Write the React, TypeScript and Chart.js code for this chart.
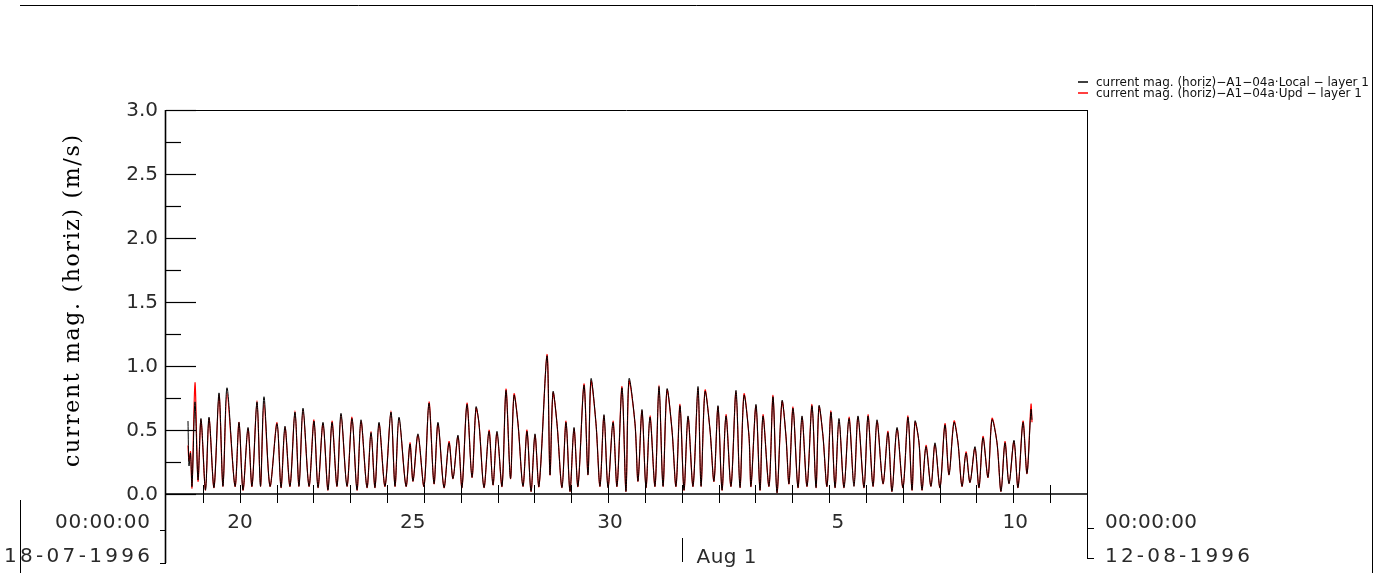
import React, { useEffect, useRef } from "react";
import { Chart, registerables } from "chart.js";

Chart.register(...registerables);

// time in days after 18-07-1996 00:00:00
const timeDays = [
  0.597, 0.624, 0.665, 0.706, 0.787, 0.869, 0.95, 1.072, 1.167, 1.303,
  1.439, 1.547, 1.656, 1.873, 1.982, 2.09, 2.226, 2.334, 2.47, 2.565,
  2.66, 2.823, 3.013, 3.122, 3.23, 3.366, 3.501, 3.61, 3.719, 3.882,
  4.017, 4.126, 4.262, 4.397, 4.506, 4.642, 4.75, 4.913, 5.049, 5.185,
  5.293, 5.456, 5.565, 5.673, 5.782, 5.945, 6.107, 6.216, 6.325, 6.515,
  6.623, 6.705, 6.84, 7.003, 7.139, 7.275, 7.383, 7.546, 7.682, 7.79,
  7.926, 8.034, 8.17, 8.306, 8.415, 8.496, 8.632, 8.768, 8.876, 8.985,
  9.121, 9.229, 9.351, 9.446, 9.555, 9.69, 9.799, 9.908, 10.016, 10.125,
  10.342, 10.423, 10.505, 10.613, 10.749, 10.858, 10.966, 11.075, 11.183, 11.346,
  11.455, 11.536, 11.672, 11.781, 11.889, 11.998, 12.134, 12.242, 12.378, 12.486,
  12.568, 12.731, 12.812, 12.921, 13.029, 13.138, 13.274, 13.382, 13.491, 13.599,
  13.735, 13.844, 13.952, 14.061, 14.17, 14.306, 14.441, 14.523, 14.631, 14.767,
  14.875, 14.984, 15.093, 15.201, 15.337, 15.472, 15.581, 15.689, 15.825, 15.879,
  16.015, 16.124, 16.205, 16.368, 16.477, 16.585, 16.721, 16.829, 16.911, 17.02,
  17.155, 17.264, 17.4, 17.535, 17.644, 17.725, 17.834, 17.942, 18.051, 18.16,
  18.268, 18.404, 18.54, 18.675, 18.784, 18.947, 19.055, 19.191, 19.3, 19.463,
  19.598, 19.707, 19.843, 20.005, 20.141, 20.25, 20.331, 20.44, 20.521, 20.63,
  20.765, 20.874, 21.01, 21.145, 21.254, 21.39, 21.498, 21.607, 21.716, 21.824,
  21.96, 22.068, 22.177, 22.313, 22.421, 22.557, 22.666, 22.774, 22.883, 23.018,
  23.127, 23.263, 23.371, 23.48, 23.507,
];

// current mag. (horiz) A1-04a Local, m/s
const localMag = [
  0.57, 0.22, 0.32, 0.06, 0.72, 0.11, 0.59, 0.03, 0.6, 0.05,
  0.79, 0.06, 0.83, 0.06, 0.56, 0.03, 0.52, 0.06, 0.72, 0.06,
  0.76, 0.06, 0.55, 0.05, 0.53, 0.06, 0.64, 0.06, 0.67, 0.06,
  0.57, 0.05, 0.56, 0.03, 0.56, 0.06, 0.63, 0.06, 0.59, 0.03,
  0.58, 0.05, 0.48, 0.05, 0.56, 0.06, 0.64, 0.06, 0.6, 0.06,
  0.39, 0.1, 0.47, 0.06, 0.71, 0.08, 0.56, 0.05, 0.4, 0.12,
  0.46, 0.05, 0.7, 0.13, 0.68, 0.55, 0.05, 0.49, 0.07, 0.49,
  0.06, 0.81, 0.12, 0.77, 0.55, 0.06, 0.49, 0.02, 0.47, 0.06,
  1.08, 0.15, 0.8, 0.55, 0.05, 0.56, 0.02, 0.52, 0.06, 0.85,
  0.15, 0.9, 0.55, 0.06, 0.62, 0.05, 0.56, 0.06, 0.83, 0.02,
  0.9, 0.55, 0.1, 0.66, 0.05, 0.6, 0.06, 0.84, 0.06, 0.82,
  0.5, 0.06, 0.69, 0.03, 0.61, 0.06, 0.84, 0.06, 0.8, 0.5,
  0.1, 0.69, 0.03, 0.61, 0.06, 0.81, 0.05, 0.77, 0.45, 0.06,
  0.7, 0.03, 0.61, 0.06, 0.76, 0.01, 0.73, 0.45, 0.08, 0.67,
  0.05, 0.61, 0.06, 0.69, 0.05, 0.69, 0.45, 0.06, 0.64, 0.05,
  0.59, 0.05, 0.59, 0.06, 0.61, 0.05, 0.61, 0.06, 0.58, 0.08,
  0.48, 0.02, 0.52, 0.05, 0.6, 0.03, 0.57, 0.4, 0.03, 0.37,
  0.06, 0.4, 0.05, 0.54, 0.15, 0.56, 0.4, 0.06, 0.32, 0.09,
  0.37, 0.05, 0.44, 0.13, 0.58, 0.4, 0.02, 0.4, 0.08, 0.42,
  0.05, 0.56, 0.16, 0.66, 0.58,
];

// current mag. (horiz) A1-04a Upd, m/s
const updMag = [
  0.38, 0.26, 0.33, 0.05, 0.87, 0.1, 0.58, 0.03, 0.59, 0.05,
  0.77, 0.06, 0.79, 0.06, 0.56, 0.03, 0.51, 0.06, 0.73, 0.06,
  0.72, 0.06, 0.56, 0.05, 0.52, 0.06, 0.65, 0.06, 0.66, 0.06,
  0.58, 0.05, 0.55, 0.03, 0.57, 0.06, 0.62, 0.06, 0.6, 0.03,
  0.57, 0.05, 0.49, 0.05, 0.55, 0.06, 0.65, 0.06, 0.59, 0.06,
  0.4, 0.1, 0.46, 0.06, 0.72, 0.08, 0.55, 0.05, 0.41, 0.12,
  0.45, 0.05, 0.71, 0.13, 0.67, 0.55, 0.05, 0.5, 0.07, 0.48,
  0.06, 0.82, 0.12, 0.78, 0.55, 0.06, 0.5, 0.02, 0.46, 0.06,
  1.09, 0.15, 0.79, 0.55, 0.05, 0.57, 0.02, 0.51, 0.06, 0.86,
  0.15, 0.88, 0.55, 0.06, 0.61, 0.05, 0.57, 0.06, 0.84, 0.02,
  0.88, 0.55, 0.1, 0.65, 0.05, 0.61, 0.06, 0.85, 0.06, 0.81,
  0.5, 0.06, 0.7, 0.03, 0.6, 0.06, 0.83, 0.06, 0.81, 0.5,
  0.1, 0.68, 0.03, 0.62, 0.06, 0.8, 0.05, 0.78, 0.45, 0.06,
  0.69, 0.03, 0.62, 0.06, 0.77, 0.01, 0.72, 0.45, 0.08, 0.68,
  0.05, 0.6, 0.06, 0.7, 0.05, 0.68, 0.45, 0.06, 0.65, 0.05,
  0.58, 0.05, 0.6, 0.06, 0.6, 0.05, 0.62, 0.06, 0.57, 0.08,
  0.49, 0.02, 0.51, 0.05, 0.61, 0.03, 0.56, 0.4, 0.03, 0.38,
  0.06, 0.39, 0.05, 0.55, 0.15, 0.57, 0.4, 0.06, 0.33, 0.09,
  0.36, 0.05, 0.45, 0.13, 0.59, 0.4, 0.02, 0.41, 0.08, 0.41,
  0.05, 0.57, 0.16, 0.7, 0.56,
];

const seriesNames = [
  "current mag. (horiz)\u2212A1\u221204a\u00b7Local \u2212 layer 1",
  "current mag. (horiz)\u2212A1\u221204a\u00b7Upd \u2212 layer 1",
];
const seriesColors = ["#000000", "#ff0000"];
const yTitle = "current mag. (horiz) (m/s)";

const yMajorValues = [0, 0.5, 1, 1.5, 2, 2.5, 3];
const yMajorLabels = ["0.0", "0.5", "1.0", "1.5", "2.0", "2.5", "3.0"];
const yMinorValues = [0.25, 0.75, 1.25, 1.75, 2.25, 2.75];

const xMin = 0;
const xMax = 25;
const dayMarks = [1, 2, 3, 4, 5, 6, 7, 8, 9, 10, 11, 12, 13, 14, 15, 16, 17, 18, 19, 20, 21, 22, 23, 24];
const xLabelDays = [2.01, 6.7, 12.05, 18.24, 23.05];
const xLabels = ["20", "25", "30", "5", "10"];
const monthMarkDay = 14;
const monthMarkLabel = "Aug 1";
const startTimeLabel = "00:00:00";
const startDateLabel = "18-07-1996";
const endTimeLabel = "00:00:00";
const endDateLabel = "12-08-1996";

const TICK_FONT = "20px 'DejaVu Sans'";
const TICK_COLOR = "#2a2a2a";

function drawFitted(
  ctx: CanvasRenderingContext2D,
  text: string,
  x: number,
  y: number,
  align: "left" | "right" | "center",
  width?: number
) {
  ctx.letterSpacing = "0px";
  const chars = Array.from(text).length;
  const w0 = ctx.measureText(text).width;
  let ls = 0;
  if (width && chars > 1) ls = (width - w0) / (chars - 1);
  const total = w0 + ls * (chars - 1);
  let sx = x;
  if (align === "right") sx = x - total;
  if (align === "center") sx = x - total / 2;
  ctx.letterSpacing = ls + "px";
  ctx.textAlign = "left";
  ctx.fillText(text, sx, y);
  ctx.letterSpacing = "0px";
}

const decorPlugin = {
  id: "decor",
  afterDraw(chart: any) {
    const ctx: CanvasRenderingContext2D = chart.ctx;
    const xs = chart.scales.x;
    const ys = chart.scales.y;
    const { left, right, top, bottom } = chart.chartArea;
    const line = (x1: number, y1: number, x2: number, y2: number) => {
      ctx.beginPath();
      ctx.moveTo(x1, y1);
      ctx.lineTo(x2, y2);
      ctx.stroke();
    };
    ctx.save();
    ctx.strokeStyle = "#000";
    ctx.fillStyle = "#000";

    // outer frame
    ctx.lineWidth = 1;
    line(20, 5.5, 1373.5, 5.5);
    line(20.5, 500, 20.5, 573);

    // plot frame
    ctx.lineWidth = 1;
    line(left, top + 0.5, right, top + 0.5);
    line(right + 0.5, top, right + 0.5, 558);
    ctx.lineWidth = 1.6;
    line(left - 0.5, top, left - 0.5, 563);
    line(left, bottom, right, bottom);

    // y ticks
    ctx.lineWidth = 1.2;
    yMajorValues.forEach((v) => {
      const y = Math.round(ys.getPixelForValue(v)) + 0.5;
      line(left, y, left + 30, y);
    });
    yMinorValues.forEach((v) => {
      const y = Math.round(ys.getPixelForValue(v)) + 0.5;
      line(left, y, left + 15, y);
    });

    // x day ticks
    ctx.lineWidth = 1;
    dayMarks.forEach((d) => {
      const x = Math.round(xs.getPixelForValue(d)) + 0.5;
      line(x, bottom - 9, x, bottom + 9);
    });

    // left and right small marks
    line(left - 6, 530.5, left, 530.5);
    line(left - 6, 563.5, left, 563.5);
    line(right, 528.5, right + 7, 528.5);
    line(right, 558.5, right + 7, 558.5);

    // month mark
    const mx = Math.round(xs.getPixelForValue(monthMarkDay)) + 0.5;
    line(mx, 538, mx, 562);

    // tick labels
    ctx.font = TICK_FONT;
    ctx.fillStyle = TICK_COLOR;
    ctx.textBaseline = "middle";
    yMajorValues.forEach((v, i) => {
      const y = ys.getPixelForValue(v);
      drawFitted(ctx, yMajorLabels[i], 158, y + 1, "right");
    });
    xLabelDays.forEach((d, i) => {
      const x = xs.getPixelForValue(d);
      drawFitted(ctx, xLabels[i], x, 523, "center");
    });
    drawFitted(ctx, monthMarkLabel, mx + 14, 558, "left", 60);
    drawFitted(ctx, startTimeLabel, 150, 523, "right", 95);
    drawFitted(ctx, startDateLabel, 150, 557, "right", 146);
    drawFitted(ctx, endTimeLabel, right + 18, 523, "left", 92);
    drawFitted(ctx, endDateLabel, right + 18, 557, "left", 145);

    // y title
    ctx.save();
    ctx.fillStyle = "#000";
    ctx.font = "22px 'DejaVu Serif'";
    ctx.textBaseline = "alphabetic";
    ctx.translate(79, 301);
    ctx.rotate(-Math.PI / 2);
    drawFitted(ctx, yTitle, 0, 0, "center", 332);
    ctx.restore();

    // legend
    ctx.font = "12px 'DejaVu Sans'";
    ctx.fillStyle = "#111";
    ctx.textBaseline = "alphabetic";
    const legY = [82, 93];
    seriesNames.forEach((name, i) => {
      ctx.strokeStyle = seriesColors[i];
      ctx.lineWidth = 1.5;
      line(1078, legY[i], 1088, legY[i]);
      drawFitted(ctx, name, 1096, legY[i] + 4, "left");
    });

    // right border, drawn last so it covers the legend end
    ctx.fillStyle = "#fff";
    ctx.fillRect(1373, 0, 10, 573);
    ctx.strokeStyle = "#000";
    ctx.lineWidth = 1;
    line(1372.5, 5, 1372.5, 573);
    ctx.restore();
  },
};

export default function App() {
  const ref = useRef<HTMLCanvasElement | null>(null);
  useEffect(() => {
    document.body.style.margin = "0";
    const canvas = ref.current;
    if (!canvas) return;
    const chart = new Chart(canvas, {
      type: "line",
      data: {
        datasets: [
          {
            label: seriesNames[0],
            data: timeDays.map((t, i) => ({ x: t, y: localMag[i] })),
            borderColor: seriesColors[0],
            borderWidth: 1,
            pointRadius: 0,
            tension: 0.3,
            order: 0,
          },
          {
            label: seriesNames[1],
            data: timeDays.map((t, i) => ({ x: t, y: updMag[i] })),
            borderColor: seriesColors[1],
            borderWidth: 1.2,
            pointRadius: 0,
            tension: 0.3,
            order: 1,
          },
        ],
      },
      options: {
        animation: false,
        responsive: false,
        devicePixelRatio: 1,
        events: [],
        layout: { padding: { left: 166, top: 110, right: 296, bottom: 79 } },
        scales: {
          x: { type: "linear", min: xMin, max: xMax, display: false },
          y: { min: 0, max: 3, display: false },
        },
        plugins: { legend: { display: false }, tooltip: { enabled: false } },
      },
      plugins: [decorPlugin],
    });
    return () => chart.destroy();
  }, []);
  return (
    <div style={{ width: 1383, height: 573, position: "relative", background: "#fff" }}>
      <canvas ref={ref} width={1383} height={573} style={{ display: "block" }} />
    </div>
  );
}
